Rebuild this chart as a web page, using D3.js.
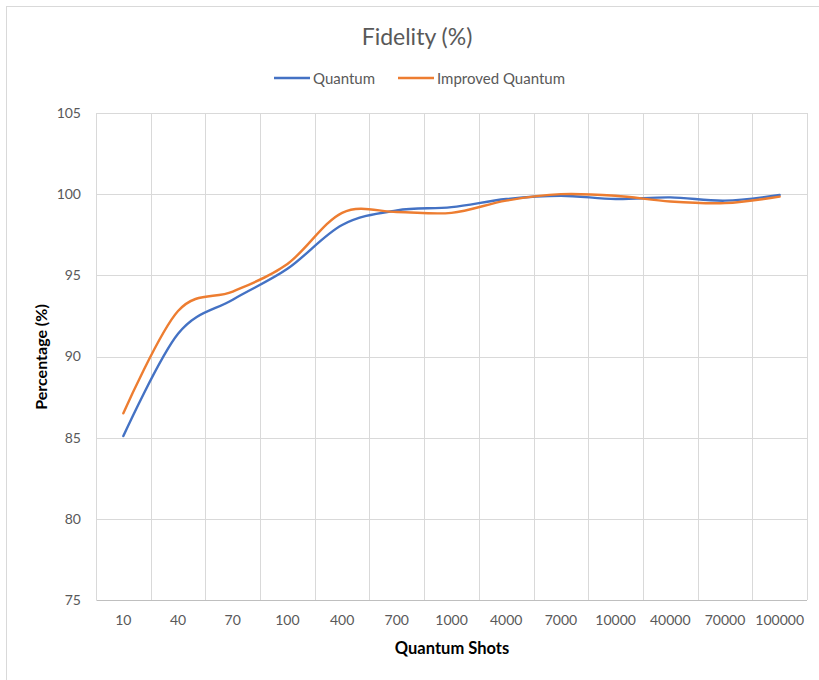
<!DOCTYPE html>
<html>
<head>
<meta charset="utf-8">
<script src="https://cdn.jsdelivr.net/npm/d3@7"></script>
<style>
  body { margin: 0; background: #fff; }
  svg text { font-family: Lato, "Open Sans", sans-serif; }
</style>
</head>
<body>
<div id="chart"></div>
<script>

// ---- data ----
var shots = ["10","40","70","100","400","700","1000","4000","7000","10000","40000","70000","100000"];
var quantum  = [85.1, 91.4, 93.5, 95.4, 98.1, 99.0, 99.2, 99.7, 99.9, 99.7, 99.8, 99.6, 99.95];
var improved = [86.5, 92.8, 94.0, 95.7, 98.85, 98.9, 98.85, 99.6, 100.0, 99.9, 99.55, 99.45, 99.85];
var yTicks = [75, 80, 85, 90, 95, 100, 105];

var seriesNames = ["Quantum", "Improved Quantum"];
var colors = ["#4472C4", "#ED7D31"];

// svg properties
var W = 819, H = 680;
var margin = { top: 113, right: 12, bottom: 80, left: 96 },
	width = W - margin.left - margin.right,
	height = H - margin.top - margin.bottom;

var svg = d3.select('#chart').append('svg')
	.attr('width', W)
	.attr('height', H);

// chart area border (only top/left edges fall inside the picture)
svg.append('rect')
	.attr('x', 6.5).attr('y', 6.5)
	.attr('width', W + 20).attr('height', H + 20)
	.attr('fill', '#fff')
	.attr('stroke', '#d9d9d9');

var g = svg.append('g').attr('transform', 'translate(' + margin.left + ',' + margin.top + ')');

//************ SCALES ************
var xScale = d3.scaleBand().domain(shots).range([0, width]).padding(0);
var yScale = d3.scaleLinear().domain([75, 105]).range([height, 0]);
var xMid = function (d) { return xScale(d) + xScale.bandwidth() / 2; };

//************ GRID ************
// horizontal gridlines
g.append('g')
	.selectAll('line')
	.data(yTicks.slice(1)).enter()
	.append('line')
	.attr('x1', 0).attr('x2', width)
	.attr('y1', function (d) { return Math.round(yScale(d)) + 0.5; })
	.attr('y2', function (d) { return Math.round(yScale(d)) + 0.5; })
	.attr('stroke', '#d9d9d9');

// vertical gridlines between categories
var bounds = shots.map(function (d) { return xScale(d); }).concat([width]);
g.append('g')
	.selectAll('line')
	.data(bounds).enter()
	.append('line')
	.attr('x1', function (d) { return Math.round(d) + 0.5; })
	.attr('x2', function (d) { return Math.round(d) + 0.5; })
	.attr('y1', 0).attr('y2', height)
	.attr('stroke', '#d9d9d9');

//************ AXES ************
var yAxis = d3.axisLeft(yScale).tickValues(yTicks).tickSize(0).tickPadding(15);
var yg = g.append('g').call(yAxis);
yg.select('.domain').remove();
yg.selectAll('text').attr('fill', '#595959').style('font-size', '14px');

var xAxis = d3.axisBottom(xScale).tickSize(0).tickPadding(15);
var xg = g.append('g').attr('transform', 'translate(0,' + height + ')').call(xAxis);
xg.select('.domain').attr('stroke', '#bfbfbf').attr('d', 'M0.5,0.5H' + width);
xg.selectAll('text').attr('fill', '#595959').style('font-size', '14px');

//************ LINES ************
var line = d3.line()
	.x(function (d, i) { return xMid(shots[i]); })
	.y(function (d) { return yScale(d); })
	.curve(d3.curveCardinal.tension(0));

[quantum, improved].forEach(function (vals, k) {
	g.append('path')
		.datum(vals)
		.attr('d', line)
		.attr('fill', 'none')
		.attr('stroke', colors[k])
		.attr('stroke-width', 2.4)
		.attr('stroke-linecap', 'round')
		.attr('stroke-linejoin', 'round');
});

//************ TITLES ************
svg.append('text')
	.attr('x', 417).attr('y', 45)
	.attr('text-anchor', 'middle')
	.attr('fill', '#595959')
	.style('font-size', '23px')
	.text('Fidelity (%)');

svg.append('text')
	.attr('transform', 'translate(47,357) rotate(-90)')
	.attr('text-anchor', 'middle')
	.attr('fill', '#000')
	.style('font-size', '16px')
	.style('font-weight', 'bold')
	.text('Percentage (%)');

svg.append('text')
	.attr('x', 452).attr('y', 654)
	.attr('text-anchor', 'middle')
	.attr('fill', '#000')
	.style('font-size', '16.5px')
	.style('font-weight', 'bold')
	.text('Quantum Shots');

//************ LEGEND ************
var legendX = [274, 398];
var legend = svg.append('g').selectAll('g')
	.data(seriesNames).enter()
	.append('g')
	.attr('transform', function (d, i) { return 'translate(' + legendX[i] + ',78)'; });
legend.append('line')
	.attr('x1', 0).attr('x2', 36)
	.attr('stroke', function (d, i) { return colors[i]; })
	.attr('stroke-width', 2.4);
legend.append('text')
	.attr('x', 39).attr('y', 5.5)
	.attr('fill', '#595959')
	.style('font-size', '15px')
	.text(function (d) { return d; });

</script>
</body>
</html>
